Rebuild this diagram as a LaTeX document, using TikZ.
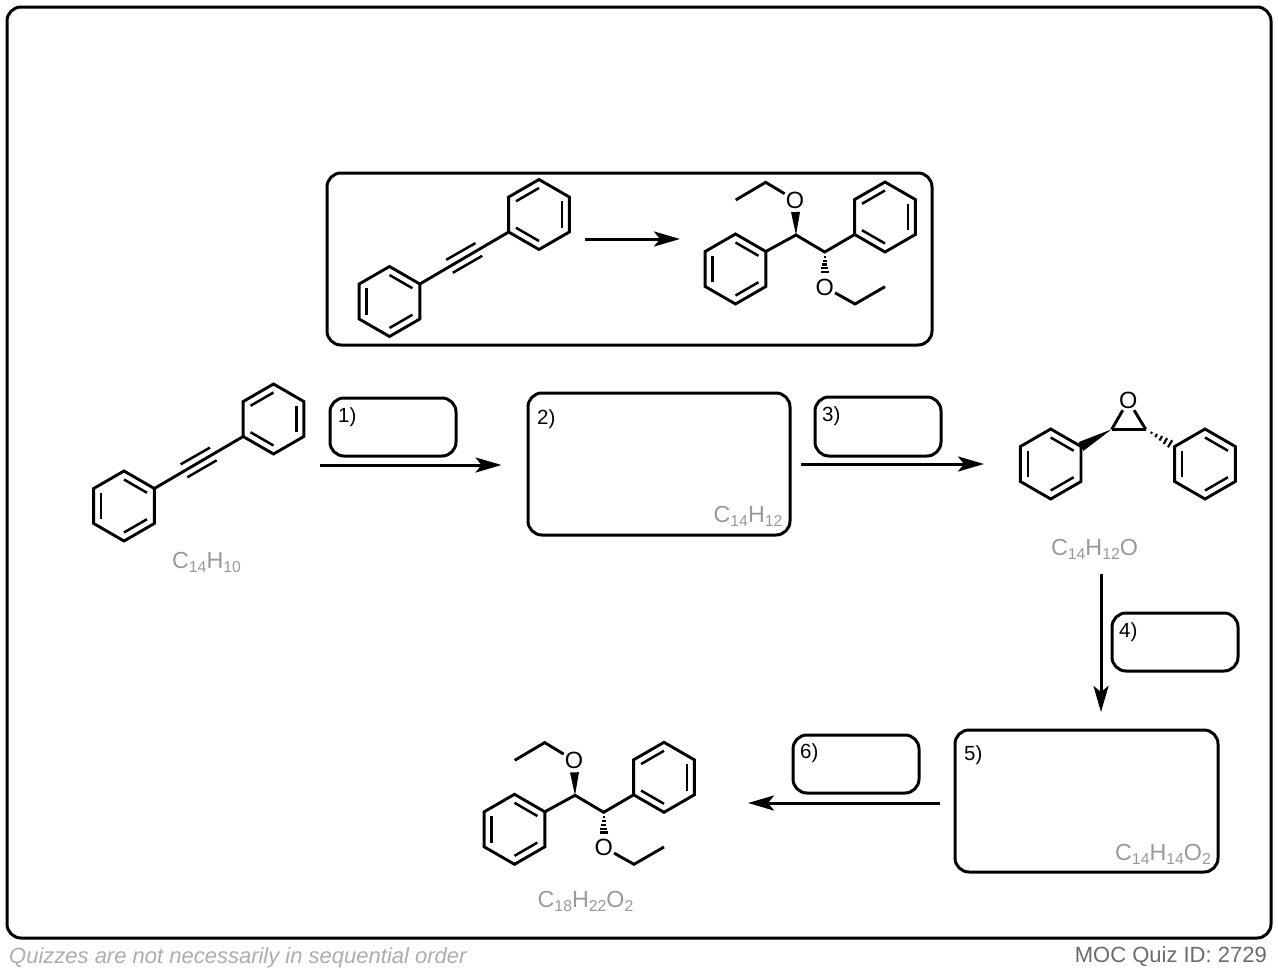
\documentclass[tikz,border=0pt]{standalone}
\usepackage{fontspec}
\setmainfont{Liberation Sans}
\usetikzlibrary{arrows.meta}
\usetikzlibrary{calc}
\definecolor{formulagray}{gray}{0.6}
\definecolor{leftgray}{gray}{0.68}
\definecolor{rightgray}{gray}{0.42}
\tikzset{
  bond/.style={line width=2.9pt,line join=miter},
  innerbond/.style={line width=2.5pt},
  hashline/.style={line width=2.1pt},
  rarrow/.style={line width=3pt,-{Stealth[length=26pt,width=15pt,inset=6pt]}},
  roundbox/.style={draw,line width=3pt,rounded corners=14pt,inner sep=0pt},
  atom/.style={font=\fontsize{23.5}{24}\selectfont,inner sep=1pt},
  formula/.style={anchor=base,text=formulagray,font=\fontsize{23.3}{24}\selectfont,inner sep=0pt},
  numlabel/.style={anchor=base west,font=\fontsize{20.5}{21}\selectfont,inner sep=0pt},
}
\newcommand{\lowdigits}[1]{\raisebox{-4.5pt}{\fontsize{15.8}{16}\selectfont #1}}
\newcommand{\phring}[4]{%
  \foreach \k in {1,...,6}{
    \coordinate (#1\k) at ([shift={(#2,#3)}]\k*60-150:35);
    \coordinate (#1i\k) at ([shift={(#2,#3)}]\k*60-150:26.5);
  }
  \draw[bond] (#11)--(#12)--(#13)--(#14)--(#15)--(#16)--cycle;
  \foreach \a/\b in {#4} \draw[innerbond] (#1i\a)--(#1i\b);
}
\newcommand{\wedgebond}[3]{%
  \fill (#1)--($(#2)!#3!90:(#1)$)--($(#2)!#3!-90:(#1)$)--cycle;
}
\newcommand{\hashbond}[2]{%
  \foreach \t/\w in {0.2/1,0.36/1.8,0.52/2.6,0.68/3.4,0.84/4.1,1/4.8}
    \draw[hashline] ($(#1)!\t!(#2)!\w pt!90:(#2)$)--($(#1)!\t!(#2)!\w pt!-90:(#2)$);
}
\newcommand{\tolane}[3]{%
  \phring{#1l}{124+#2}{506+#3}{1/2,3/4,5/6}
  \phring{#1r}{273.5+#2}{419+#3}{6/1,2/3,4/5}
  \coordinate (#1ua) at ([shift={(#2,#3)}]180.7,464.3);
  \coordinate (#1ub) at ([shift={(#2,#3)}]210,447.6);
  \coordinate (#1da) at ([shift={(#2,#3)}]187.3,477.3);
  \coordinate (#1db) at ([shift={(#2,#3)}]216.7,460.3);
  \draw[bond] (#1l2)--(#1r5);
  \draw[innerbond] (#1ua)--(#1ub);
  \draw[innerbond] (#1da)--(#1db);
}
\newcommand{\diether}[3]{%
  \phring{#1l}{735.5+#2}{269+#3}{1/2,3/4,5/6}
  \phring{#1r}{885+#2}{217+#3}{6/1,2/3,4/5}
  \coordinate (#1c) at ([shift={(#2,#3)}]796,235);
  \coordinate (#1d) at ([shift={(#2,#3)}]824.7,252);
  \coordinate (#1w) at ([shift={(#2,#3)}]795.5,212);
  \coordinate (#1h) at ([shift={(#2,#3)}]824.7,276);
  \node[atom] (#1o) at ([shift={(#2,#3)}]795,200) {O};
  \node[atom] (#1p) at ([shift={(#2,#3)}]824.7,287) {O};
  \coordinate (#1e) at ([shift={(#2,#3)}]765.7,182.3);
  \coordinate (#1f) at ([shift={(#2,#3)}]735.7,200);
  \coordinate (#1g) at ([shift={(#2,#3)}]855,304);
  \coordinate (#1j) at ([shift={(#2,#3)}]885,286.7);
  \draw[bond] (#1l2)--(#1c)--(#1d)--(#1r5);
  \draw[bond] (#1o)--(#1e)--(#1f);
  \draw[bond] (#1p)--(#1g)--(#1j);
  \wedgebond{#1c}{#1w}{4.5pt}
  \hashbond{#1d}{#1h}
}
\begin{document}
\begin{tikzpicture}[x=1pt,y=-1pt]
  \useasboundingbox (0,0) rectangle (1278,972);
  \node[roundbox,minimum width=1264pt,minimum height=931pt] (frame) at (639,472.5){};
  \node[roundbox,minimum width=605pt,minimum height=172pt] (question) at (629.5,259){};

  %question
  \tolane{qa}{265.5}{-204.5}
  \diether{qb}{0}{0}
  \coordinate (qs) at (585,239);
  \coordinate (qe) at (680,239);
  \draw[rarrow] (qs)--(qe);

  %boxes
  \node[roundbox,minimum width=126pt,minimum height=58pt] (r1) at (393,427){};
  \node[roundbox,minimum width=262pt,minimum height=142pt] (r2) at (659,464){};
  \node[roundbox,minimum width=126pt,minimum height=59pt] (r3) at (878,426.5){};
  \node[roundbox,minimum width=126pt,minimum height=58pt] (r4) at (1175,642){};
  \node[roundbox,minimum width=263pt,minimum height=142pt] (r5) at (1086.5,801){};
  \node[roundbox,minimum width=126pt,minimum height=58pt] (r6) at (856,764){};
  \node[numlabel] (n1) at (338,422){1)};
  \node[numlabel] (n2) at (537,424){2)};
  \node[numlabel] (n3) at (822,421){3)};
  \node[numlabel] (n4) at (1119,637){4)};
  \node[numlabel] (n5) at (964,760){5)};
  \node[numlabel] (n6) at (800,758){6)};

  %molecules
  \tolane{sm}{0}{0}
  \diether{pr}{-221}{560.3}
  \phring{el}{1050.7}{464}{1/2,3/4,5/6}
  \phring{er}{1205}{464}{1/2,3/4,5/6}
  \coordinate (ea) at (1111.7,429.3);
  \coordinate (eb) at (1145.7,429.3);
  \node[atom] (eo) at (1128.3,400.7){O};
  \draw[bond] (ea)--(eb);
  \draw[bond] (ea)--(eo);
  \draw[bond] (eb)--(eo);
  \wedgebond{ea}{el2}{5pt}
  \hashbond{eb}{er6}

  %formulas
  \node[formula] (f1) at (206.5,568){C\lowdigits{14}H\lowdigits{10}};
  \node[formula] (f2) at (748,522){C\lowdigits{14}H\lowdigits{12}};
  \node[formula] (f3) at (1094.5,555){C\lowdigits{14}H\lowdigits{12}O};
  \node[formula] (f4) at (1163,860){C\lowdigits{14}H\lowdigits{14}O\lowdigits{2}};
  \node[formula] (f5) at (585.5,907){C\lowdigits{18}H\lowdigits{22}O\lowdigits{2}};

  %arrows
  \coordinate (s1) at (320,465);
  \coordinate (e1) at (501.5,465);
  \coordinate (s3) at (801,464);
  \coordinate (e3) at (984,464);
  \coordinate (s4) at (1101,574);
  \coordinate (e4) at (1101,712);
  \coordinate (s6) at (940,803);
  \coordinate (e6) at (748,803);
  \draw[rarrow] (s1)--(e1);
  \draw[rarrow] (s3)--(e3);
  \draw[rarrow] (s4)--(e4);
  \draw[rarrow] (s6)--(e6);

  \node[anchor=base west,inner sep=0pt,text=leftgray,font=\fontsize{22}{23}\selectfont\itshape] (fl) at (9,963){Quizzes are not necessarily in sequential order};
  \node[anchor=base east,inner sep=0pt,text=rightgray,font=\fontsize{22}{23}\selectfont] (fr) at (1267,962){MOC Quiz ID: 2729};
\end{tikzpicture}
\end{document}
